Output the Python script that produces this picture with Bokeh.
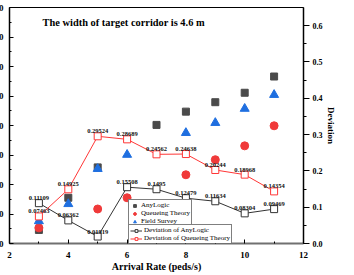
from bokeh.plotting import figure
from bokeh.models import (Range1d, LinearAxis, FixedTicker, Legend, LegendItem,
                          Label, LabelSet, ColumnDataSource, NumeralTickFormatter)
from bokeh.embed import file_html
from bokeh.resources import INLINE

# ---------------- data ----------------
x_anylogic = [3, 4, 5, 7, 8, 9, 10, 11]
anylogic = [24.6, 35.5, 45.8, 60.2, 64.7, 67.9, 71.1, 76.6]
x_queueing = [3, 5, 6, 8, 9, 10, 11]
queueing = [25.3, 31.7, 35.5, 43.3, 48.4, 53.1, 59.9]
x_survey = [3, 4, 5, 6, 8, 9, 10, 11]
survey = [27.6, 33.4, 45.3, 50.1, 57.5, 60.9, 65.7, 70.4]

rate = [3, 4, 5, 6, 7, 8, 9, 10, 11]
dev_anylogic = [0.11109, 0.06362, 0.01919, 0.15508, 0.1495, 0.12479, 0.11634, 0.08304, 0.09469]
dev_queueing = [0.07463, 0.14925, 0.29524, 0.28689, 0.24562, 0.24638, 0.20244, 0.18968, 0.14354]

x_ticks = [2, 4, 6, 8, 10, 12]
left_ticks = [20, 30, 40, 50, 60, 70, 80, 90, 100]
dev_ticks = [0.0, 0.1, 0.2, 0.3, 0.4, 0.5, 0.6]

title_text = "The width of target corridor is 4.6 m"

SERIF = "Liberation Serif"
C_ANY = "#4a4a4a"
C_QUE = "#f03a3a"
C_SUR = "#1f6fe0"
C_DEVA = "#333333"
C_DEVQ = "#ff3636"

p = figure(width=372, height=275, output_backend="svg", toolbar_location=None,
           x_range=Range1d(2, 12), y_range=Range1d(20, 100),
           min_border_left=30, min_border_right=48, min_border_top=7, min_border_bottom=32)
p.styles = {"margin": "0px -8px -8px -21px"}
p.extra_y_ranges = {"dev": Range1d(0, 0.65)}
p.grid.visible = False
p.outline_line_color = "black"
p.outline_line_width = 1
p.background_fill_color = "white"
p.border_fill_color = "white"

# bottom axis
xa = p.xaxis[0]
xa.ticker = FixedTicker(ticks=x_ticks, minor_ticks=[3, 5, 7, 9, 11])
xa.major_tick_in = 4
xa.major_tick_out = 0
xa.minor_tick_in = 2
xa.minor_tick_out = 0
xa.axis_line_color = "#707070"
xa.axis_line_width = 2
xa.major_tick_line_color = "black"
xa.minor_tick_line_color = "black"
xa.major_label_text_font = SERIF
xa.major_label_text_font_style = "bold"
xa.major_label_text_font_size = "9px"
xa.major_label_text_color = "black"
xa.major_label_standoff = 8
xa.axis_label = "Arrival Rate (peds/s)"
xa.axis_label_text_font = SERIF
xa.axis_label_text_font_style = "bold"
xa.axis_label_text_font_size = "10px"
xa.axis_label_text_color = "black"
xa.axis_label_standoff = 0

# left axis
ya = p.yaxis[0]
ya.ticker = FixedTicker(ticks=left_ticks, minor_ticks=[25, 35, 45, 55, 65, 75, 85, 95])
ya.major_tick_in = 4
ya.major_tick_out = 0
ya.minor_tick_in = 2
ya.minor_tick_out = 0
ya.axis_line_color = "black"
ya.axis_line_width = 1.5
ya.major_label_text_font = SERIF
ya.major_label_text_font_style = "bold"
ya.major_label_text_font_size = "9px"
ya.major_label_text_color = "black"
ya.major_label_standoff = 6

# right axis
ra = LinearAxis(y_range_name="dev")
ra.ticker = FixedTicker(ticks=dev_ticks, minor_ticks=[0.05, 0.15, 0.25, 0.35, 0.45, 0.55])
ra.formatter = NumeralTickFormatter(format="0.0")
ra.major_tick_in = 0
ra.major_tick_out = 6
ra.minor_tick_in = 0
ra.minor_tick_out = 3
ra.axis_line_color = "black"
ra.axis_line_width = 1.5
ra.major_label_text_font = SERIF
ra.major_label_text_font_style = "bold"
ra.major_label_text_font_size = "8px"
ra.major_label_text_color = "black"
ra.major_label_standoff = 3
ra.axis_label = "Deviation"
ra.axis_label_text_font = SERIF
ra.axis_label_text_font_style = "bold"
ra.axis_label_text_font_size = "9px"
ra.axis_label_text_color = "black"
ra.axis_label_standoff = 0
p.add_layout(ra, "right")

# scatter series
r_any = p.scatter(x_anylogic, anylogic, marker="square", size=7, color=C_ANY)
r_que = p.scatter(x_queueing, queueing, marker="circle", size=8, color=C_QUE)
r_sur = p.scatter(x_survey, survey, marker="triangle", size=9, color=C_SUR)

# deviation lines
l_a = p.line(rate, dev_anylogic, y_range_name="dev", color=C_DEVA, line_width=1)
m_a = p.scatter(rate, dev_anylogic, y_range_name="dev", marker="square", size=7,
                fill_color="white", line_color=C_DEVA, line_width=1)
l_q = p.line(rate, dev_queueing, y_range_name="dev", color=C_DEVQ, line_width=1)
m_q = p.scatter(rate, dev_queueing, y_range_name="dev", marker="square", size=7,
                fill_color="white", line_color=C_DEVQ, line_width=1)

for vals in (dev_anylogic, dev_queueing):
    src = ColumnDataSource(dict(x=rate, y=vals, t=[str(v) for v in vals]))
    p.add_layout(LabelSet(x="x", y="y", text="t", source=src, y_range_name="dev",
                          text_font=SERIF, text_font_style="bold", text_font_size="6.5px",
                          text_color="#111111", text_align="center", text_baseline="bottom",
                          y_offset=3))

p.add_layout(Label(x=3.126, y=94.9, text=title_text, text_font=SERIF,
                   text_font_style="bold", text_font_size="10.4px", text_color="black",
                   text_align="left", text_baseline="middle"))

def style_legend(lg):
    lg.border_line_color = "black"
    lg.border_line_width = 1
    lg.background_fill_color = "white"
    lg.background_fill_alpha = 1
    lg.label_text_font = SERIF
    lg.label_text_font_size = "7px"
    lg.label_text_color = "black"
    lg.label_height = 7
    lg.glyph_height = 7
    lg.label_standoff = 2
    lg.margin = 0
    lg.padding = 1
    lg.spacing = 0

leg1 = Legend(items=[LegendItem(label="AnyLogic", renderers=[r_any]),
                     LegendItem(label="Queueing Theory", renderers=[r_que]),
                     LegendItem(label="Field Survey", renderers=[r_sur])],
              location=(119, 16))
style_legend(leg1)
leg1.glyph_width = 9
p.add_layout(leg1, "center")

leg2 = Legend(items=[LegendItem(label="Deviation of AnyLogic", renderers=[l_a, m_a]),
                     LegendItem(label="Deviation of Queueing Theory", renderers=[l_q, m_q])],
              location=(119, -1))
style_legend(leg2)
leg2.glyph_width = 12
p.add_layout(leg2, "center")

open("out.html", "w").write(file_html(p, INLINE))
